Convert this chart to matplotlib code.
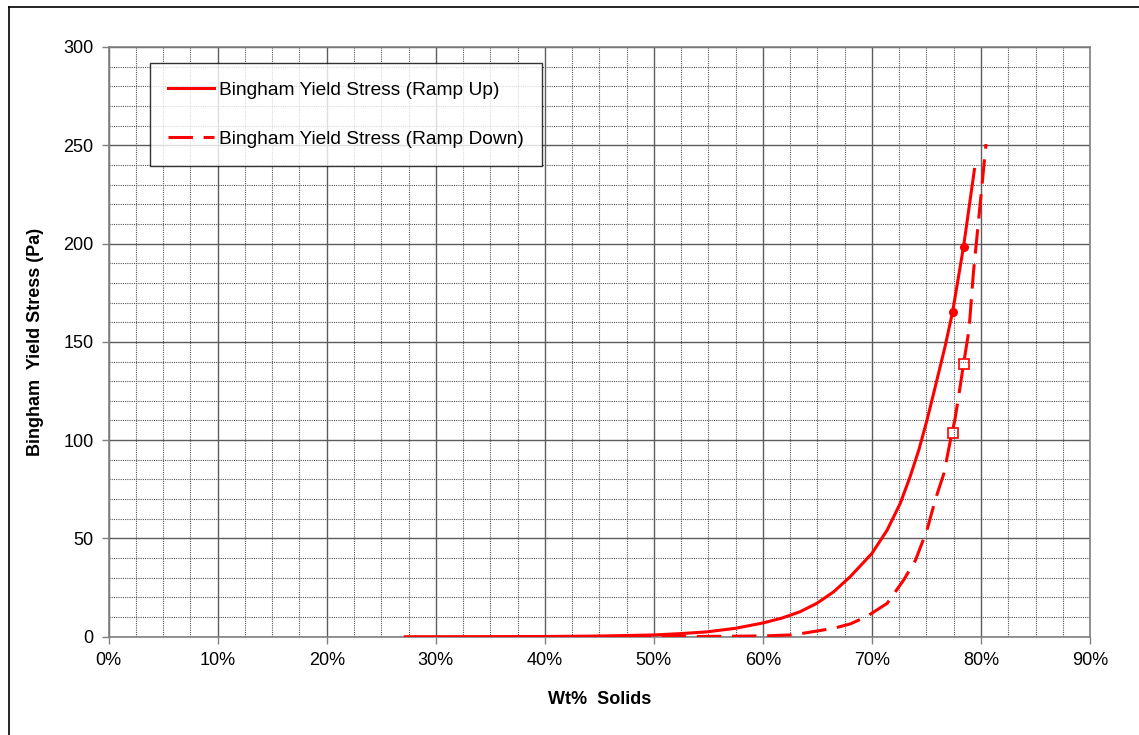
import matplotlib
matplotlib.use("Agg")
import matplotlib.pyplot as plt
from matplotlib.lines import Line2D
from matplotlib.ticker import MultipleLocator, PercentFormatter

plt.rcParams['font.family'] = ['Liberation Sans', 'DejaVu Sans']

# Ramp Up curve (wt fraction, Pa)
up_x = [0.272, 0.35, 0.40, 0.45, 0.50, 0.525, 0.549, 0.575, 0.60, 0.6175, 0.634, 0.6495,
        0.665, 0.680, 0.700, 0.714, 0.726, 0.735, 0.743, 0.7505, 0.758, 0.767, 0.774,
        0.784, 0.794]
up_y = [0.0, 0.05, 0.12, 0.35, 0.9, 1.6, 2.5, 4.3, 7.0, 9.5, 12.7, 17.0,
        22.9, 30.5, 42.4, 54.3, 67.9, 81.4, 95.0, 110.2, 127.0, 147.5, 165.3,
        198.4, 237.7]

# Ramp Down curve
down_x = [0.475, 0.55, 0.60, 0.625, 0.634, 0.665, 0.680, 0.695, 0.714, 0.729, 0.740,
          0.7505, 0.758, 0.766, 0.772, 0.776, 0.779, 0.784, 0.789, 0.793, 0.799, 0.8046]
down_y = [0.0, 0.15, 0.4, 0.9, 1.5, 4.3, 6.5, 10.2, 17.0, 28.8, 39.0,
          54.3, 69.5, 83.1, 100.0, 110.2, 120.4, 138.7, 156.0, 184.8, 218.7, 250.6]

# measured points
up_pts_x = [0.774, 0.784]
up_pts_y = [165.3, 198.4]
down_pts_x = [0.774, 0.784]
down_pts_y = [103.5, 138.7]

xlabel = "Wt%  Solids"
ylabel = "Bingham  Yield Stress (Pa)"
label_up = "Bingham Yield Stress (Ramp Up)"
label_down = "Bingham Yield Stress (Ramp Down)"

red = "#ff0000"

fig = plt.figure(figsize=(11.39, 7.35), dpi=100)
ax = fig.add_axes([0.0954, 0.1337, 0.8616, 0.8024])

ax.plot(up_x, up_y, color=red, lw=2.2, solid_joinstyle='round', label=label_up, zorder=3)
ax.plot(down_x, down_y, color=red, lw=2.2, dashes=[8, 3.5], dash_joinstyle='round',
        label=label_down, zorder=3)
ax.plot(up_pts_x, up_pts_y, 'o', color=red, ms=5.5, zorder=4)
ax.plot(down_pts_x, down_pts_y, 's', mfc='none', mec=red, mew=1.2, ms=7, zorder=4)

ax.set_xlim(0, 0.9)
ax.set_ylim(0, 300)
ax.xaxis.set_major_locator(MultipleLocator(0.1))
ax.xaxis.set_minor_locator(MultipleLocator(0.025))
ax.yaxis.set_major_locator(MultipleLocator(50))
ax.yaxis.set_minor_locator(MultipleLocator(10))
ax.xaxis.set_major_formatter(PercentFormatter(1.0, decimals=0))

ax.grid(which='major', color='#5c5c5c', lw=1.0, ls='-', zorder=1)
ax.grid(which='minor', color='#555555', lw=0.8, ls=(0, (1, 1)), zorder=1)
ax.set_axisbelow(True)

for s in ax.spines.values():
    s.set_color('#808080')
    s.set_linewidth(1.2)

ax.tick_params(which='major', direction='out', length=5, width=1, color='#808080',
               labelsize=13, pad=6)
ax.tick_params(which='minor', length=0)

ax.set_xlabel(xlabel, fontsize=13, fontweight='bold', labelpad=16)
ax.set_ylabel(ylabel, fontsize=13, fontweight='bold', labelpad=14)

leg = ax.legend(loc='upper left', bbox_to_anchor=(0.042, 0.973), borderaxespad=0,
                fontsize=13.8, frameon=True, fancybox=False, handlelength=2.4,
                handletextpad=0.27, labelspacing=1.65, borderpad=0.95)
leg.get_frame().set_edgecolor('#000000')
leg.get_frame().set_linewidth(1.0)

# figure border (top and left)
fig.add_artist(Line2D([0.008, 1.0], [0.991, 0.991], transform=fig.transFigure, color='black', lw=1.2))
fig.add_artist(Line2D([0.008, 0.008], [0.0, 0.991], transform=fig.transFigure, color='black', lw=1.2))

fig.savefig("out.png", dpi=100)
